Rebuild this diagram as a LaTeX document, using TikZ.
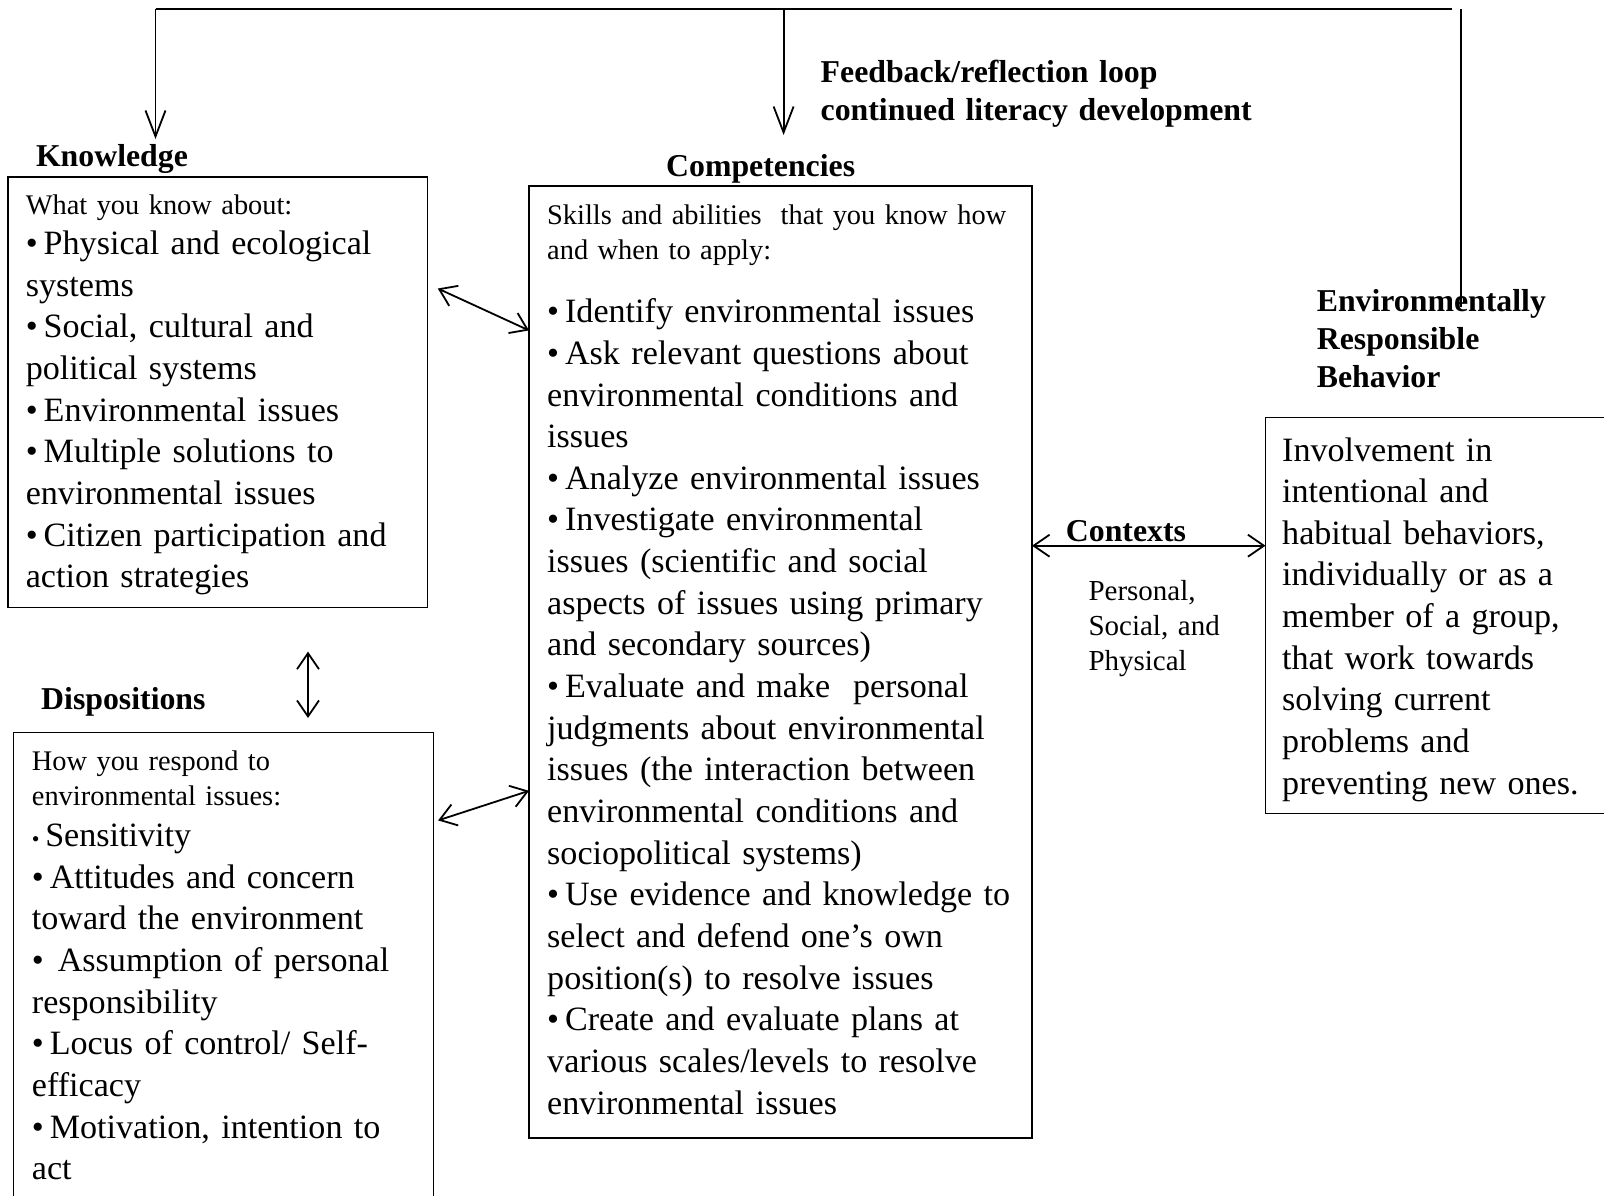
\documentclass[tikz,border=0pt]{standalone}
\usepackage{fontspec}
\setmainfont{Liberation Serif}
\usetikzlibrary{arrows.meta}
% bullet followed by a narrow gap
\newcommand{\bul}{•\hspace{6pt}}
\begin{document}
\begin{tikzpicture}[x=1pt,y=-1pt,
  >={Straight Barb[length=16pt,width=22pt]},
  box/.style={draw, line width=1.5pt, anchor=north west, inner sep=0pt, outer sep=0pt},
  heading/.style={anchor=base west, inner sep=0pt, align=left, text width=520pt,
    font=\fontsize{31.8}{38}\selectfont\bfseries},
  intro/.style={anchor=base west, inner sep=0pt, align=left, text width=500pt,
    font=\fontsize{28.4}{35}\selectfont},
  ctxtext/.style={anchor=base west, inner sep=0pt, align=left, text width=200pt,
    font=\fontsize{29}{35}\selectfont},
  items/.style={anchor=base west, inner sep=0pt, align=left, text width=500pt,
    font=\fontsize{34.1}{41.65}\selectfont},
  link/.style={line width=1.8pt, <->},
  loopline/.style={line width=1.8pt},
  drop/.style={line width=1.8pt, -{Straight Barb[length=26pt,width=20pt]}},
]
\path[use as bounding box, clip] (0,0) rectangle (1604,1195);
\fill[white] (0,0) rectangle (1604,1195);

% boxes
\node[box, minimum width=419.4pt, minimum height=430.7pt] (know) at (8.2,177) {};
\node[box, minimum width=503pt, minimum height=952pt] (comp) at (529,186) {};
\node[box, minimum width=420.4pt, minimum height=500pt] (disp) at (13.3,732.5) {};
\node[box, minimum width=360pt, minimum height=395.9pt] (erb) at (1265.5,417.4) {};

% headings
\node[heading] (knowT) at (35.8,166) {Knowledge};
\node[heading] (compT) at (666,176) {Competencies};
\node[heading] (dispT) at (41,709) {Dispositions};
\node[heading] (fbT) at (820.5,82) {Feedback/reflection loop\\continued literacy development};
\node[heading] (erbT) at (1316.6,311) {Environmentally\\Responsible\\Behavior};
\node[heading] (ctxT) at (1065.7,541) {Contexts};
\node[ctxtext] (ctxS) at (1088.3,600) {Personal,\\Social, and\\Physical};

% knowledge
\node[intro] (knowI) at (25.6,214) {What you know about:};
\node[items] (knowL) at (25.6,254.5) {\bul Physical and ecological\\
systems\\
\bul Social, cultural and\\
political systems\\
\bul Environmental issues\\
\bul Multiple solutions to\\
environmental issues\\
\bul Citizen participation and\\
action strategies};

% competencies
\node[intro] (compI) at (547,224) {Skills and abilities\ \ that you know how\\and when to apply:};
\node[items] (compL) at (547,322.7) {\bul Identify environmental issues\\
\bul Ask relevant questions about\\
environmental conditions and\\
issues\\
\bul Analyze environmental issues\\
\bul Investigate environmental\\
issues (scientific and social\\
aspects of issues using primary\\
and secondary sources)\\
\bul Evaluate and make\ \ personal\\
judgments about environmental\\
issues (the interaction between\\
environmental conditions and\\
sociopolitical systems)\\
\bul Use evidence and knowledge to\\
select and defend one’s own\\
position(s) to resolve issues\\
\bul Create and evaluate plans at\\
various scales/levels to resolve\\
environmental issues};

% dispositions
\node[intro] (dispI) at (31.7,770) {How you respond to\\environmental issues:};
\node[items] (dispL) at (31.7,846.5) {{\fontsize{22}{22}\selectfont•}\,Sensitivity\\
\bul Attitudes and concern\\
toward the environment\\
•\hspace{14pt}Assumption of personal\\
responsibility\\
\bul Locus of control/ Self-\\
efficacy\\
\bul Motivation, intention to\\
act};

% behavior
\node[items] (erbL) at (1282,461) {Involvement in\\
intentional and\\
habitual behaviors,\\
individually or as a\\
member of a group,\\
that work towards\\
solving current\\
problems and\\
preventing new ones.};

% links between boxes
\draw[link] ([xshift=10.2pt,yshift=-111.5pt]know.north east) -- ([yshift=-144.4pt]comp.north west);
\draw[link] ([xshift=4.4pt,yshift=-87.9pt]disp.north east) -- ([yshift=-604.8pt]comp.north west);
\draw[link] ([xshift=299.8pt,yshift=-43.9pt]know.south west) -- ([xshift=294.7pt,yshift=14.5pt]disp.north west);
\coordinate (ctxY) at (1150,545.7);
\draw[link] (comp.east |- ctxY) -- (erb.west |- ctxY);

% feedback loop
\coordinate (loopL) at (155.5,9);
\coordinate (loopM) at (783.6,9);
\coordinate (loopR) at (1452,9);
\coordinate (riseT) at (1461,9);
\coordinate (riseB) at (1461,307);
\coordinate (kDrop) at (155.5,139);
\coordinate (cDrop) at (783.6,135);
\draw[loopline] (loopL) -- (loopR);
\draw[loopline] (riseT) -- (riseB);
\draw[drop] (loopL) -- (kDrop);
\draw[drop] (loopM) -- (cDrop);
\end{tikzpicture}
\end{document}
